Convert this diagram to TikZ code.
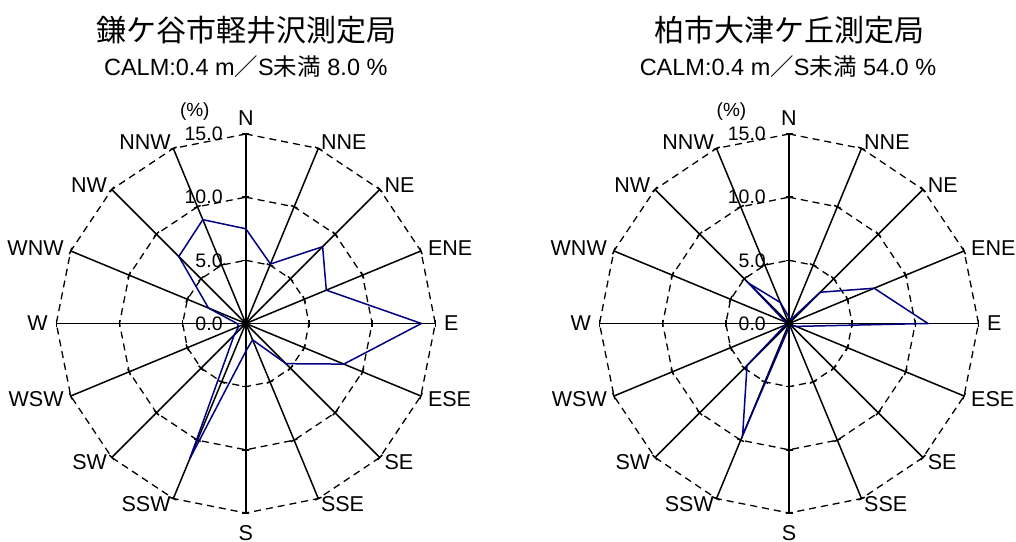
\documentclass[tikz,border=0pt]{standalone}
\usepackage{fontspec}
\setmainfont{Liberation Sans}
\newfontfamily\jpfont{Noto Sans CJK JP}
\usetikzlibrary{positioning}
\definecolor{rosenavy}{RGB}{0,0,128}

\tikzset{
  spoke/.style={line width=1.5bp},
  ring/.style={line width=1.3bp, dash pattern=on 7bp off 5bp},
  rosedata/.style={rosenavy, line width=1.5bp},
  dirlabel/.style={font=\fontsize{21.5bp}{21.5bp}\selectfont, inner sep=0pt},
  scalelabel/.style={font=\fontsize{19.5bp}{19.5bp}\selectfont, inner sep=0pt, anchor=east},
  pctlabel/.style={font=\fontsize{19bp}{19bp}\selectfont, inner sep=0pt},
  titletext/.style={font=\jpfont\fontsize{30bp}{30bp}\selectfont, inner sep=0pt},
  calmtext/.style={font=\fontsize{23.5bp}{23.5bp}\selectfont, inner sep=0pt}
}

\begin{document}
\begin{tikzpicture}[x=1bp, y=1bp]
  \useasboundingbox (0,0) rectangle (1016,542);

  % Kamagaya
  \node[titletext] (kama-title) at (246.5,512) {鎌ケ谷市軽井沢測定局};
  \node[calmtext] (kama-calm) at (245.8,475) {CALM:0.4 m{\jpfont ／}S{\jpfont 未満} 8.0 \%};
  \begin{scope}[shift={(245.8,218.5)}]
    \foreach \r in {63.2,126.3,189.5}
      \draw[ring] (90:\r) \foreach \k in {1,...,15} {-- ({90-22.5*\k}:\r)} -- cycle;
    \foreach \k in {1,...,15}
      \draw[spoke] (0,0) -- ({90-22.5*\k}:189.5);
    \draw[spoke, line width=2.1bp] (0,0) -- (90:189.5);
    \foreach \k in {0,...,15}
      \foreach \r in {63.2,126.3,189.5}
        \draw[spoke, rotate={90-22.5*\k}] (\r,-3.5) -- (\r,3.5);
    \foreach \v [count=\k from 0] in {7.5,5.1,8.6,6.9,13.9,8.4,4.5,1.4,2.2,11.6,1.3,0.6,0.7,3.2,7.5,8.9}
      \coordinate (kama-d\k) at ({90-22.5*\k}:{\v*12.63});
    \draw[rosedata] (kama-d0) \foreach \k in {1,...,15} {-- (kama-d\k)} -- cycle;
    \fill (0,0) circle (4bp);
    \foreach \lab/\anc/\rad [count=\k from 0] in {N/south/198,NNE/west/196,NE/west/196,ENE/west/197,E/west/198,ESE/west/197,SE/west/196,SSE/west/196,S/north/202,SSW/east/196,SW/east/196,WSW/east/197,W/east/198,WNW/east/197,NW/east/196,NNW/east/196}
      \node[dirlabel, anchor=\anc] (kama-\lab) at ({90-22.5*\k}:\rad) {\lab};
    \foreach \v/\r in {0.0/0,5.0/63.2,10.0/126.3,15.0/189.5}
      \node[scalelabel] (kama-s\v) at (-23,\r) {\v};
    \node[pctlabel] (kama-pct) at (-51,211.5) {(\%)};
  \end{scope}

  % Kashiwa
  \node[titletext] (kashi-title) at (789,512) {柏市大津ケ丘測定局};
  \node[calmtext] (kashi-calm) at (788,475) {CALM:0.4 m{\jpfont ／}S{\jpfont 未満} 54.0 \%};
  \begin{scope}[shift={(789,218.5)}]
    \foreach \r in {63.2,126.3,189.5}
      \draw[ring] (90:\r) \foreach \k in {1,...,15} {-- ({90-22.5*\k}:\r)} -- cycle;
    \foreach \k in {1,...,15}
      \draw[spoke] (0,0) -- ({90-22.5*\k}:189.5);
    \draw[spoke, line width=2.1bp] (0,0) -- (90:189.5);
    \foreach \k in {0,...,15}
      \foreach \r in {63.2,126.3,189.5}
        \draw[spoke, rotate={90-22.5*\k}] (\r,-3.5) -- (\r,3.5);
    \foreach \v [count=\k from 0] in {0.5,0.3,3.5,7.3,11.0,0.6,0.2,0.2,0.3,9.6,4.7,0.3,0.3,0.3,4.5,1.8}
      \coordinate (kashi-d\k) at ({90-22.5*\k}:{\v*12.63});
    \draw[rosedata] (kashi-d0) \foreach \k in {1,...,15} {-- (kashi-d\k)} -- cycle;
    \fill (0,0) circle (4bp);
    \foreach \lab/\anc/\rad [count=\k from 0] in {N/south/198,NNE/west/196,NE/west/196,ENE/west/197,E/west/198,ESE/west/197,SE/west/196,SSE/west/196,S/north/202,SSW/east/196,SW/east/196,WSW/east/197,W/east/198,WNW/east/197,NW/east/196,NNW/east/196}
      \node[dirlabel, anchor=\anc] (kashi-\lab) at ({90-22.5*\k}:\rad) {\lab};
    \foreach \v/\r in {0.0/0,5.0/63.2,10.0/126.3,15.0/189.5}
      \node[scalelabel] (kashi-s\v) at (-23,\r) {\v};
    \node[pctlabel] (kashi-pct) at (-57.5,211.5) {(\%)};
  \end{scope}
\end{tikzpicture}
\end{document}
